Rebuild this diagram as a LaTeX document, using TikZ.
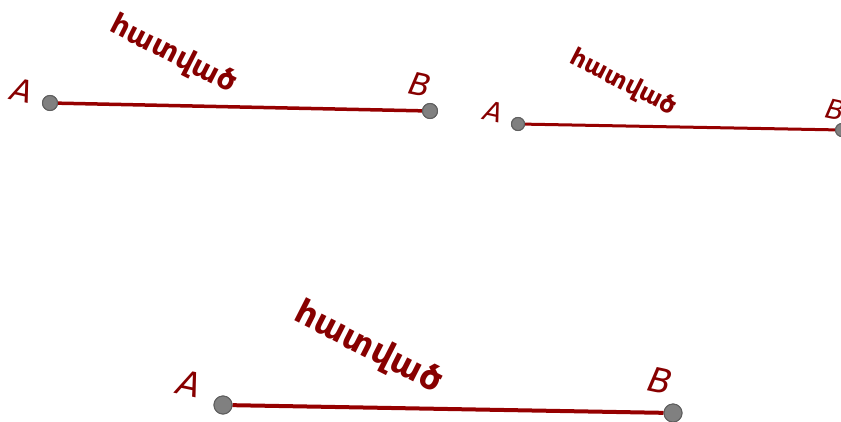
\documentclass[tikz,border=0pt]{standalone}
\usepackage{fontspec}
\setmainfont{DejaVu Sans}
\newfontfamily\armfont{DejaVu Sans}[BoldFont={DejaVu Sans Bold}]
\newfontfamily\labfont{DejaVu Sans}[ItalicFont={DejaVu Sans Oblique}]
\definecolor{segred}{RGB}{150,0,0}
\definecolor{txtred}{RGB}{135,0,0}
\definecolor{ptfill}{RGB}{128,128,128}
\definecolor{ptdraw}{RGB}{95,95,95}
\tikzset{
  seg/.style={draw=segred},
  pt/.style={circle,fill=ptfill,draw=ptdraw,line width=1pt,inner sep=0pt},
  lab/.style={text=txtred,inner sep=0pt,rotate=-12},
  segtext/.style={text=txtred,inner sep=0pt,rotate=-27}
}
\begin{document}
\begin{tikzpicture}[x=1pt,y=-1pt]
\useasboundingbox (0,0) rectangle (841,421);
% segment 1
\node[pt,minimum size=15pt] (A1) at (50,103) {};
\node[pt,minimum size=15pt] (B1) at (430,111) {};
\draw[seg,line width=3.5pt] (A1) -- (B1);
\node[pt,minimum size=15pt] at (A1) {};
\node[pt,minimum size=15pt] at (B1) {};
\node[lab,font=\labfont\itshape\fontsize{31}{31}\selectfont] (LA1) at (22,91) {A};
\node[lab,font=\labfont\itshape\fontsize{31}{31}\selectfont] (LB1) at (420,85) {B};
\node[segtext,font=\armfont\bfseries\fontsize{29}{29}\selectfont] (T1) at (173,55) {հատված};
% segment 2
\node[pt,minimum size=13pt] (A2) at (518,124) {};
\node[pt,minimum size=13pt] (B2) at (842,130) {};
\draw[seg,line width=3pt] (A2) -- (B2);
\node[pt,minimum size=13pt] at (A2) {};
\node[pt,minimum size=13pt] at (B2) {};
\node[lab,font=\labfont\itshape\fontsize{27}{27}\selectfont] (LA2) at (494,112) {A};
\node[lab,font=\labfont\itshape\fontsize{27}{27}\selectfont] (LB2) at (836,110) {B};
\node[segtext,font=\armfont\bfseries\fontsize{24.5}{24.5}\selectfont] (T2) at (623,83) {հատված};
% segment 3
\node[pt,minimum size=18pt] (A3) at (223,405) {};
\node[pt,minimum size=18pt] (B3) at (673,413) {};
\draw[seg,line width=4pt] (A3) -- (B3);
\node[pt,minimum size=18pt] at (A3) {};
\node[pt,minimum size=18pt] at (B3) {};
\node[lab,font=\labfont\itshape\fontsize{34}{34}\selectfont] (LA3) at (189,384) {A};
\node[lab,font=\labfont\itshape\fontsize{34}{34}\selectfont] (LB3) at (660,381) {B};
\node[segtext,font=\armfont\bfseries\fontsize{34}{34}\selectfont] (T3) at (368,348) {հատված};
\end{tikzpicture}
\end{document}
